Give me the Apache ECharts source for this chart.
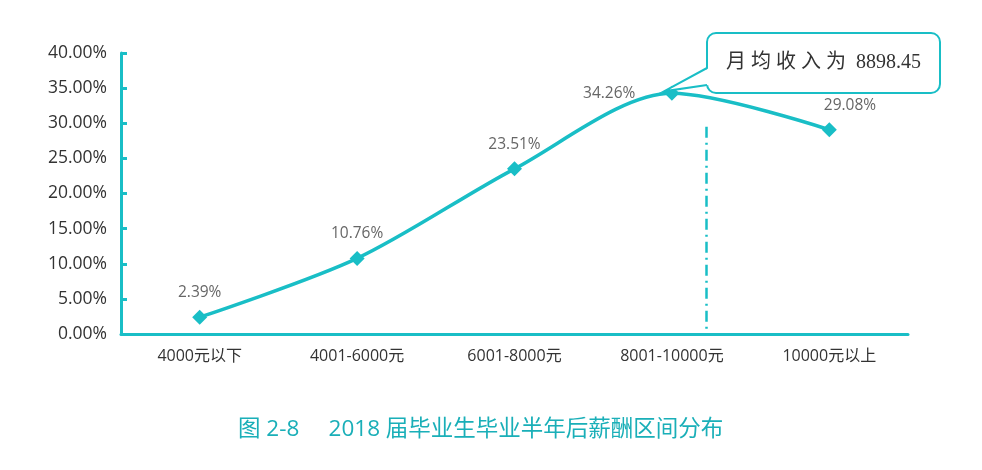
<!DOCTYPE html>
<html><head><meta charset="utf-8">
<script src="https://cdn.jsdelivr.net/npm/echarts@6/dist/echarts.min.js"></script>
<style>html,body{margin:0;padding:0;background:#fff}#c{width:982px;height:470px}</style>
</head><body><div id="c"></div>
<script>
const categories = ['4000元以下','4001-6000元','6001-8000元','8001-10000元','10000元以上'];
const values = [2.39, 10.76, 23.51, 34.26, 29.08];
const yTicks = [0,5,10,15,20,25,30,35,40];
const avgIncomeText = '月 均 收 入 为  8898.45';
const avgMarkerX = 3.22;     // category-index position of the average marker
const avgMarkerTop = 29.5;   // top of the dash-dot marker (%)
const titleText = '图 2-8     2018 届毕业生毕业半年后薪酬区间分布';

const TEAL = '#19bec6';
const chart = echarts.init(document.getElementById('c'));
const labelPos = ['top','top','top','left','right'];
const labelOff = [[0,-4],[0,-4],[0,-4],[-24,0],[-18,-24]];
chart.setOption({
  animation:false,
  grid:{left:121,right:74,top:53,bottom:136},
  title:{text:titleText,left:233,top:413,textStyle:{color:'#1aafb8',fontSize:22.5,fontWeight:'normal',fontFamily:'Open Sans, Noto Sans CJK SC'}},
  xAxis:[{type:'category',data:categories,boundaryGap:true,
    axisLine:{onZero:false,lineStyle:{color:TEAL,width:3}},
    axisTick:{inside:true,length:6,lineStyle:{color:TEAL,width:3}},
    axisLabel:{color:'#333',fontSize:16,margin:14,fontFamily:'Open Sans, Noto Sans CJK SC'}},
    {type:'value',min:-0.5,max:4.5,show:false}],
  yAxis:{type:'value',min:0,max:40,interval:5,
    axisLine:{show:true,onZero:false,lineStyle:{color:TEAL,width:3}},
    axisTick:{show:true,inside:true,length:6,lineStyle:{color:TEAL,width:3}},
    splitLine:{show:false},
    axisLabel:{color:'#333',fontSize:17.5,margin:14,fontFamily:'Open Sans, Noto Sans',formatter:v=>v.toFixed(2)+'%'}},
  series:[{
    type:'line',smooth:0.3,data:values.map((v,i)=>({value:v,label:{position:labelPos[i],offset:labelOff[i]}})),
    symbol:'diamond',symbolSize:15,
    lineStyle:{color:TEAL,width:3.5},itemStyle:{color:TEAL},
    label:{show:true,color:'#666',fontSize:15.5,fontFamily:'Open Sans, Noto Sans',formatter:p=>p.value.toFixed(2)+'%'},
    z:3
  },{
    type:'line',xAxisIndex:1,data:[[avgMarkerX,0]],symbol:'none',lineStyle:{opacity:0},silent:true,
    markLine:{symbol:'none',silent:true,label:{show:false},
      lineStyle:{color:TEAL,width:2.5,type:[11,5,2,5]},
      data:[[{coord:[avgMarkerX,avgMarkerTop]},{coord:[avgMarkerX,0]}]]}
  }]
});
// callout box pointing at the peak point
const p = chart.convertToPixel({seriesIndex:0},[3,values[3]]);
const tipX = p[0]-8, tipY = p[1]-2;
const x0 = 707, x1 = 940, y0 = 33, y1 = 93;
const yA = 68, yB = 85;
chart.setOption({graphic:[
  {type:'rect',shape:{x:x0,y:y0,width:x1-x0,height:y1-y0,r:9},style:{fill:'#fff',stroke:TEAL,lineWidth:2},z:10},
  {type:'polygon',shape:{points:[[x0+2,yA],[tipX,tipY],[x0+2,yB]]},style:{fill:'#fff',stroke:null},z:11},
  {type:'polyline',shape:{points:[[x0,yA],[tipX,tipY],[x0,yB]]},style:{fill:null,stroke:TEAL,lineWidth:2},z:12},
  {type:'text',x:(x0+x1)/2,y:(y0+y1)/2,style:{text:avgIncomeText,fill:'#333',align:'center',verticalAlign:'middle',font:'20px "Liberation Serif", "Noto Sans CJK SC"'},z:13}
]});
</script></body></html>
